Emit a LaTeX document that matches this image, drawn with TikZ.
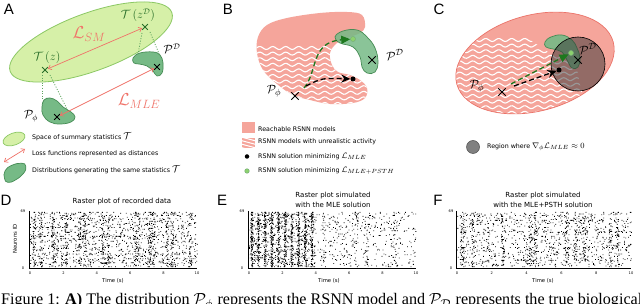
\documentclass[tikz,border=0pt]{standalone}
\usepackage{fontspec}
\setsansfont{DejaVu Sans}
\newfontfamily\letterfont{Liberation Sans}
\newfontfamily\capfont{Liberation Serif}
\usetikzlibrary{arrows.meta,shapes.misc}
\definecolor{lgreen}{RGB}{214,240,168}
\definecolor{lgreenb}{RGB}{140,200,100}
\definecolor{dgreen}{RGB}{118,186,134}
\definecolor{dgreenb}{RGB}{70,140,85}
\definecolor{dotlc}{RGB}{95,165,95}
\definecolor{tgreen}{RGB}{40,110,40}
\definecolor{lossred}{RGB}{240,115,105}
\definecolor{salmon}{RGB}{245,165,155}
\definecolor{salmonb}{RGB}{235,115,105}
\definecolor{arrowgreen}{RGB}{30,120,30}
\definecolor{dotgreen}{RGB}{140,210,110}
\newcommand\bgdots[3]{\fill foreach \k in {1,...,#3} {({#1+#2*rnd},{212+0.8*floor(69*rnd)}) rectangle ++(0.8,0.8)};}
\newcommand\banddots[5]{\fill foreach \k in {1,...,#4} {({#1+#2*(#3+#5*(rnd-0.5))},{212+0.8*floor(69*rnd)}) rectangle ++(0.8,0.8)};}
\newcommand\rowdots[4]{\fill foreach \k in {1,...,#4} {({#1+#2*rnd},{212+0.8*#3}) rectangle ++(0.8,0.8)};}
\begin{document}
\begin{tikzpicture}[x=1pt,y=-1pt,
  panel/.style={font=\letterfont\fontsize{15}{15}\selectfont, inner sep=0},
  mlab/.style={inner sep=0, font=\fontsize{12}{12}\selectfont},
  losslab/.style={inner sep=0, text=lossred, font=\fontsize{17}{17}\selectfont},
  xm/.style={draw, cross out, minimum size=5pt, inner sep=0pt, line width=0.75pt},
  xmb/.style={draw, cross out, minimum size=6.5pt, inner sep=0pt, line width=0.9pt},
  blob/.style={fill=dgreen, draw=dgreenb, line width=0.7},
  lossarr/.style={draw=lossred, line width=0.7, {Straight Barb[length=3pt,width=5pt]}-{Straight Barb[length=3pt,width=5pt]}},
  dotl/.style={draw=dotlc, line width=0.8, dash pattern=on 1pt off 1.6pt},
  leg/.style={font=\sffamily\fontsize{6.3}{7}\selectfont, anchor=west, inner sep=0},
  gdash/.style={draw=arrowgreen, line width=1.3, dash pattern=on 5pt off 3pt, -{Triangle[length=9pt,width=8pt]}},
  bdash/.style={draw=black, line width=1.3, dash pattern=on 5pt off 3pt, -{Stealth[length=9pt,width=8pt]}},
  wave/.style={draw=white, line width=1.1},
  ttl/.style={font=\sffamily\fontsize{7}{10}\selectfont, inner sep=0, align=center},
  tck/.style={font=\sffamily\fontsize{3.6}{4}\selectfont, inner sep=0},
  axl/.style={font=\sffamily\fontsize{5.3}{6}\selectfont, inner sep=0}
]
\useasboundingbox (0,0) rectangle (640,304);
\fill[white] (0,0) rectangle (640,304);

% ================= Panel A =================
\node[panel] (labA) at (9,9) {A};
\draw[fill=lgreen, draw=lgreenb, line width=0.8, rotate around={20:(91,42)}] (91,42) ellipse [x radius=86, y radius=29];
\filldraw[blob] plot[smooth cycle, tension=0.7] coordinates {(133,58) (140,53) (153,52) (160,55) (163,63) (162,73) (157,76) (153,71) (147,66) (139,64) (134,63)};
\filldraw[blob] plot[smooth cycle, tension=0.7] coordinates {(42,107) (44,100) (50,98) (57,101) (63,107) (71,112) (75,117) (71,122) (60,124) (50,122) (43,115)};
\node[xm, draw=tgreen] (xTD) at (145,27) {};
\node[xm, draw=tgreen] (xTz) at (45,70) {};
\node[xm] (xPDA) at (157,67) {};
\node[xm] (xPphiA) at (57,117) {};
\node[mlab, text=tgreen] (TzD) at (138,15) {$\mathcal{T}\,(z^{\mathcal{D}})$};
\node[mlab, text=tgreen] (Tz) at (47,58) {$\mathcal{T}\,(z)$};
\node[losslab] (LSM) at (89,34) {$\mathcal{L}_{SM}$};
\node[losslab] (LMLE) at (139,101) {$\mathcal{L}_{MLE}$};
\node[mlab] (PDA) at (172,49) {$\mathcal{P}^{\mathcal{D}}$};
\node[mlab] (PphiA) at (31,116) {$\mathcal{P}_{\phi}$};
\draw[lossarr] (xTz) -- (xTD);
\draw[lossarr] (xPphiA) -- (xPDA);
\coordinate (d1a) at (142,33); \coordinate (d1b) at (138,54);
\coordinate (d2a) at (150,32); \coordinate (d2b) at (160,56);
\coordinate (d3a) at (42,75);  \coordinate (d3b) at (42,100);
\coordinate (d4a) at (50,75);  \coordinate (d4b) at (68,111);
\draw[dotl] (d1a) -- (d1b);
\draw[dotl] (d2a) -- (d2b);
\draw[dotl] (d3a) -- (d3b);
\draw[dotl] (d4a) -- (d4b);
% legend A
\draw[fill=lgreen, draw=lgreenb, line width=0.7, rotate around={20:(14,139)}] (14,139) ellipse [x radius=11.5, y radius=6];
\coordinate (la1) at (4,162); \coordinate (la2) at (25,149);
\draw[lossarr] (la1) -- (la2);
\filldraw[blob, rotate around={18:(14,172)}] plot[smooth cycle, tension=0.8] coordinates {(3,175) (6,168) (14,165) (24,166) (27,170) (23,176) (13,180) (5,180)};
\node[leg] (lgA1) at (32,137) {Space of summary statistics \fontsize{10}{10}\selectfont$\mathcal{T}$};
\node[leg] (lgA2) at (32,154) {Loss functions represented as distances};
\node[leg] (lgA3) at (32,170) {Distributions generating the same statistics \fontsize{10}{10}\selectfont$\mathcal{T}$};

% ================= Panel B =================
\node[panel] (labB) at (228,9) {B};
\def\blobB{plot[smooth cycle, tension=0.6] coordinates {(267,25) (287,18) (320,13) (347,12) (362,15) (365,27) (360,33) (350,37) (337,43) (330,53) (332,65) (338,72) (350,75) (360,80) (367,88) (365,98) (353,103) (330,104) (310,100) (293,95) (277,84) (263,70) (257,53) (258,37)}}
\fill[salmon] \blobB;
\begin{scope}
  \clip \blobB;
  \clip (240,46) rectangle (380,112);
  \foreach \yy in {48,53.6,...,108} \draw[wave] plot[domain=250:372, samples=70, smooth] (\x,{\yy+1.5*sin((\x-250)*27.7)});
\end{scope}
\filldraw[fill=dgreen, fill opacity=0.85, draw=dgreenb, line width=0.7] plot[smooth cycle, tension=0.7] coordinates {(335,37) (343,31) (357,30) (367,37) (375,48) (378,62) (375,72) (367,73) (362,67) (360,57) (353,47) (340,43)};
\node[xmb] (xPDB) at (372,60) {};
\node[xmb] (xPphiB) at (295,96) {};
\node[mlab, font=\fontsize{13}{13}\selectfont] (PDB) at (395,55) {$\mathcal{P}^{\mathcal{D}}$};
\node[mlab, font=\fontsize{13}{13}\selectfont] (PphiB) at (274,91) {$\mathcal{P}_{\phi}$};
\node[circle, fill=dotgreen, draw=arrowgreen!60, line width=0.5, inner sep=0, minimum size=5pt] (gdB) at (353,39) {};
\node[circle, fill=black, inner sep=0, minimum size=5pt] (bdB) at (353,79) {};
\coordinate (gsB) at (304,88);
\coordinate (bsB) at (306,86);
\draw[gdash] (gsB) .. controls (318,72) and (310,42) .. (gdB);
\draw[bdash] (bsB) .. controls (322,78) .. (bdB);
% legend B
\node[fill=salmon, minimum width=13pt, minimum height=11pt, inner sep=0] (sqB1) at (248.5,127.5) {};
\node[fill=salmon, minimum width=13pt, minimum height=10pt, inner sep=0] (sqB2) at (248.5,143) {};
\begin{scope}
  \clip (242,138) rectangle (255,148);
  \foreach \yy in {137,140.5,...,150} \draw[draw=white, line width=1] (241,\yy) -- (256,\yy+4);
\end{scope}
\node[circle, fill=black, inner sep=0, minimum size=4.5pt] (bdL) at (247,156.5) {};
\node[circle, fill=dotgreen, draw=arrowgreen!60, line width=0.5, inner sep=0, minimum size=4.5pt] (gdL) at (247,171) {};
\node[leg] (lgB1) at (258,129) {Reachable RSNN models};
\node[leg] (lgB2) at (258,142) {RSNN models with unrealistic activity};
\node[leg] (lgB3) at (258,156.5) {RSNN solution minimizing \fontsize{8}{8}\selectfont$\mathcal{L}_{MLE}$};
\node[leg] (lgB4) at (258,171) {RSNN solution minimizing \fontsize{8}{8}\selectfont$\mathcal{L}_{MLE+PSTH}$};

% ================= Panel C =================
\node[panel] (labC) at (439,9) {C};
\fill[salmon, rotate around={15:(535,63)}] (535,63) ellipse [x radius=81, y radius=48];
\begin{scope}
  \clip[rotate around={15:(535,63)}] (535,63) ellipse [x radius=81, y radius=48];
  \clip (450,36) -- (524,36) -- (548,52) -- (576,64) -- (580,85) -- (590,120) -- (450,120) -- cycle;
  \foreach \yy in {40,45.6,...,118} \draw[wave] plot[domain=450:595, samples=80, smooth] (\x,{\yy+1.5*sin((\x-450)*27.7)});
\end{scope}
\draw[salmonb, line width=0.7, rotate around={15:(535,63)}] (535,63) ellipse [x radius=81, y radius=48];
\filldraw[fill=dgreen, fill opacity=0.9, draw=dgreenb, line width=0.7] plot[smooth cycle, tension=0.7] coordinates {(545,42) (551,37) (562,35) (572,40) (577,48) (580,58) (578,67) (572,68) (567,60) (562,52) (553,49) (546,47)};
\node[circle, draw=black, line width=0.6, fill=black!80, fill opacity=0.5, minimum size=54pt, inner sep=0] (regC) at (578,64) {};
\node[xmb] (xPDC) at (578,60) {};
\node[xmb] (xPphiC) at (502,92) {};
\node[mlab, font=\fontsize{13}{13}\selectfont] (PDC) at (588,49) {$\mathcal{P}^{\mathcal{D}}$};
\node[mlab, font=\fontsize{13}{13}\selectfont] (PphiC) at (477,86) {$\mathcal{P}_{\phi}$};
\node[circle, fill=dotgreen, draw=arrowgreen!60, line width=0.5, inner sep=0, minimum size=5pt] (gdC) at (571,53) {};
\node[circle, fill=black, inner sep=0, minimum size=5pt] (bdC) at (559,70) {};
\coordinate (gsC) at (511,84);
\coordinate (bsC) at (514,86);
\draw[gdash] (gsC) -- (gdC);
\draw[bdash] (bsC) -- (bdC);
% legend C
\node[circle, fill=black!50, draw=black!70, line width=0.5, minimum size=13pt, inner sep=0] (regL) at (473,147) {};
\node[leg] (lgC1) at (487,147) {Region where \fontsize{8}{8}\selectfont$\nabla_{\phi}\mathcal{L}_{MLE}\approx 0$};

% ================= Rasters =================
\node[panel] (labD) at (6,200) {D};
\node[panel] (labE) at (222,200) {E};
\node[panel] (labF) at (438,200) {F};
\node[ttl] (ttlD) at (122,202) {Raster plot of recorded data};
\node[ttl] (ttlE) at (333,200) {Raster plot simulated\\with the MLE solution};
\node[ttl] (ttlF) at (543,200) {Raster plot simulated\\with the MLE+PSTH solution};
\node[axl, rotate=90] (nid) at (15,239) {Neurons ID};

\pgfmathsetseed{7}
% D: x0=29, w=168
\bgdots{29}{168}{1050}
\foreach \t in {0.3,0.7,1.4,2.2,3.0,3.3,4.4,4.7,6.3,6.5,7.2,7.4,8.2,8.5,9.6} {\banddots{29}{16.8}{\t}{42}{0.18}}
\foreach \r in {8,19,30,52,58,63} {\rowdots{29}{168}{\r}{28}}
% E: x0=249, w=167
\bgdots{249}{66}{650}
\foreach \t in {0.15,0.55,0.95,1.35,1.75,2.15,2.55,2.95,3.35,3.75} {\banddots{249}{16.7}{\t}{85}{0.12}}
\bgdots{315}{101}{360}
\foreach \t in {4.5,6.4,7.0,8.7} {\banddots{249}{16.7}{\t}{25}{0.2}}
% F: x0=457, w=174
\bgdots{457}{174}{950}
\foreach \t in {0.3,0.9,2.6,4.2,4.5,6.3,6.8,7.3,8.8,9.2} {\banddots{457}{17.4}{\t}{40}{0.18}}
\foreach \r in {10,25,44,60} {\rowdots{457}{174}{\r}{25}}

% axes
\coordinate (Dtl) at (29,211); \coordinate (Dbl) at (29,268); \coordinate (Dbr) at (197,268);
\coordinate (Etl) at (248,211); \coordinate (Ebl) at (248,268); \coordinate (Ebr) at (416,268);
\coordinate (Ftl) at (456,211); \coordinate (Fbl) at (456,268); \coordinate (Fbr) at (631,268);
\draw[line width=0.5] (Dtl) -- (Dbl); \draw[line width=0.9] (Dbl) -- (Dbr);
\draw[line width=0.5] (Etl) -- (Ebl); \draw[line width=0.9] (Ebl) -- (Ebr);
\draw[line width=0.5] (Ftl) -- (Fbl); \draw[line width=0.9] (Fbl) -- (Fbr);
\foreach \i in {0,2,4,6,8,10} {
  \node[tck] (Dt\i) at ({30+16.7*\i},273.5) {\i};
  \node[tck] (Et\i) at ({249+16.7*\i},273.5) {\i};
  \node[tck] (Ft\i) at ({457+17.4*\i},273.5) {\i};
}
\node[tck] (Dy0) at (23,268) {0}; \node[tck] (Dy69) at (23,211) {69};
\node[tck] (Ey0) at (242,268) {0}; \node[tck] (Ey69) at (242,211) {69};
\node[tck] (Fy0) at (451,268) {0}; \node[tck] (Fy69) at (451,211) {69};
\node[axl] (timeD) at (113,281) {Time (s)};
\node[axl] (timeE) at (329,281) {Time (s)};
\node[axl] (timeF) at (543,281) {Time (s)};

% caption (cut by the lower edge, as in the reference)
\node[anchor=north west, inner sep=0] (cap) at (1,293.5) {\resizebox{641pt}{!}{\capfont Figure 1: \textbf{A)} The distribution $\mathcal{P}_{\phi}$ represents the RSNN model and $\mathcal{P}_{\mathcal{D}}$ represents the true biological}};
\end{tikzpicture}
\end{document}
